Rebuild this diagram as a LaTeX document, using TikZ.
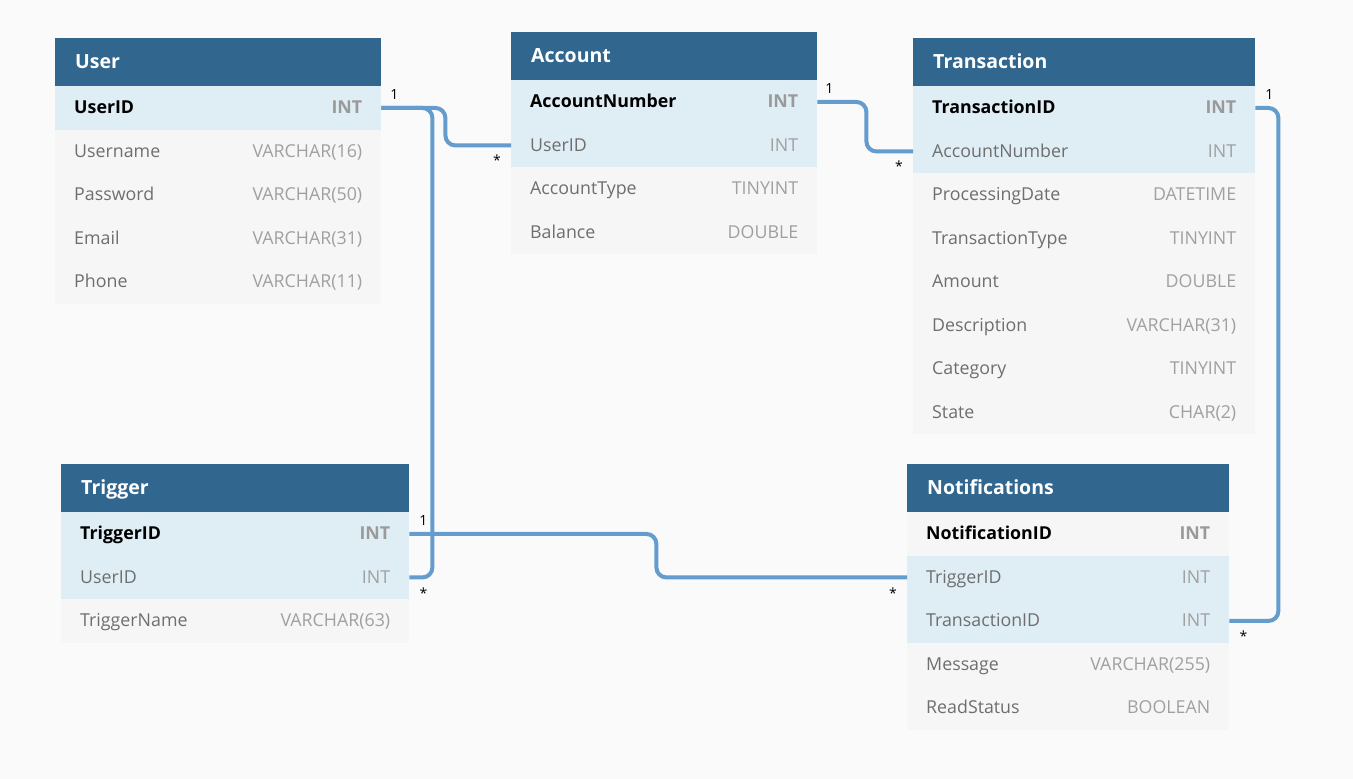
\documentclass[tikz,border=0pt]{standalone}
\usepackage{fontspec}
\setmainfont{Open Sans}
\usetikzlibrary{calc}
\definecolor{bggray}{HTML}{FAFAFA}
\definecolor{headblue}{HTML}{31668F}
\definecolor{keyblue}{HTML}{DFEDF5}
\definecolor{rowgray}{HTML}{F6F6F6}
\definecolor{linkblue}{HTML}{639CCD}
\definecolor{fldname}{HTML}{6E6E6E}
\definecolor{fldtype}{HTML}{A0A0A0}
\definecolor{pktype}{HTML}{9A9A9A}
\newcommand{\keyfld}[2]{\textbf{#1}\hfill{\color{pktype}\textbf{#2}}}
\newcommand{\fkfld}[2]{{\color{fldname}#1}\hfill{\color{fldtype}#2}}
\newcommand{\plainfld}[2]{{\color{fldname}#1}\hfill{\color{fldtype}#2}}

\begin{document}
\begin{tikzpicture}[x=1pt,y=-1pt,
		font=\fontsize{17.8}{20}\selectfont,
		tabhead/.style={fill=headblue, text=white, font=\fontsize{19.5}{22}\selectfont\bfseries,
			anchor=north west, minimum height=48, inner xsep=20, inner ysep=0,
			text height=14, text depth=2, text width=#1},
		keyrow/.style={fill=keyblue, anchor=north west, minimum height=43.5,
			inner xsep=19, inner ysep=0, text height=14, text depth=2, text width=#1},
		plainrow/.style={keyrow=#1, fill=rowgray},
		link/.style={draw=linkblue, line width=4, rounded corners=10},
		card/.style={font=\fontsize{14}{16}\selectfont, inner sep=0}]

		\fill[bggray] (0,0) rectangle (1353,779);

		%% User
		\node[tabhead=286] at (55,38)(user){User};
		\node[keyrow=288] at (55,86)(userid){\keyfld{UserID}{INT}};
		\node[plainrow=288] at (55,129.5)(uname){\plainfld{Username}{VARCHAR(16)}};
		\node[plainrow=288] at (55,173)(upass){\plainfld{Password}{VARCHAR(50)}};
		\node[plainrow=288] at (55,216.5)(umail){\plainfld{Email}{VARCHAR(31)}};
		\node[plainrow=288] at (55,260)(uphone){\plainfld{Phone}{VARCHAR(11)}};

		%% Account
		\node[tabhead=266] at (511,32)(account){Account};
		\node[keyrow=268] at (511,80)(anum){\keyfld{AccountNumber}{INT}};
		\node[keyrow=268] at (511,123.5)(auserid){\fkfld{UserID}{INT}};
		\node[plainrow=268] at (511,167)(atype){\plainfld{AccountType}{TINYINT}};
		\node[plainrow=268] at (511,210.5)(abal){\plainfld{Balance}{DOUBLE}};

		%% Transaction
		\node[tabhead=302] at (913,38)(trans){Transaction};
		\node[keyrow=304] at (913,86)(ttransid){\keyfld{TransactionID}{INT}};
		\node[keyrow=304] at (913,129.5)(tanum){\fkfld{AccountNumber}{INT}};
		\node[plainrow=304] at (913,173)(tdate){\plainfld{ProcessingDate}{DATETIME}};
		\node[plainrow=304] at (913,216.5)(ttype){\plainfld{TransactionType}{TINYINT}};
		\node[plainrow=304] at (913,260)(tamount){\plainfld{Amount}{DOUBLE}};
		\node[plainrow=304] at (913,303.5)(tdesc){\plainfld{Description}{VARCHAR(31)}};
		\node[plainrow=304] at (913,347)(tcat){\plainfld{Category}{TINYINT}};
		\node[plainrow=304] at (913,390.5)(tstate){\plainfld{State}{CHAR(2)}};

		%% Trigger
		\node[tabhead=308] at (61,464)(trigger){Trigger};
		\node[keyrow=310] at (61,512)(gtrigid){\keyfld{TriggerID}{INT}};
		\node[keyrow=310] at (61,555.5)(guserid){\fkfld{UserID}{INT}};
		\node[plainrow=310] at (61,599)(gname){\plainfld{TriggerName}{VARCHAR(63)}};

		%% Notifications
		\node[tabhead=282] at (907,464)(notif){Notifications};
		\node[plainrow=284] at (907,512)(nid){\keyfld{NotificationID}{INT}};
		\node[keyrow=284] at (907,555.5)(ntrigid){\fkfld{TriggerID}{INT}};
		\node[keyrow=284] at (907,599)(ntransid){\fkfld{TransactionID}{INT}};
		\node[plainrow=284] at (907,642.5)(nmsg){\plainfld{Message}{VARCHAR(255)}};
		\node[plainrow=284] at (907,686)(nread){\plainfld{ReadStatus}{BOOLEAN}};

		%% relations
		\draw[link] (userid.east) -- ++(51,0) |- (guserid.east);
		\draw[link] (userid.east) -- ++(64,0) |- (auserid.west);
		\draw[link] (anum.east) -- ++(49,0) |- (tanum.west);
		\draw[link] (gtrigid.east) -- ++(247,0) |- (ntrigid.west);
		\draw[link] (ttransid.east) -- ++(23,0) |- (ntransid.east);

		%% cardinalities
		\node[card] at ($(userid.east)+(13,-13)$)(c-user){1};
		\node[card] at ($(auserid.west)+(-14,15)$)(c-auser){*};
		\node[card] at ($(guserid.east)+(14,16)$)(c-guser){*};
		\node[card] at ($(anum.east)+(12,-13)$)(c-anum){1};
		\node[card] at ($(tanum.west)+(-14,15)$)(c-tanum){*};
		\node[card] at ($(gtrigid.east)+(14,-13)$)(c-gtrig){1};
		\node[card] at ($(ntrigid.west)+(-14,16)$)(c-ntrig){*};
		\node[card] at ($(ttransid.east)+(14,-13)$)(c-ttrans){1};
		\node[card] at ($(ntransid.east)+(14,15)$)(c-ntrans){*};
\end{tikzpicture}
\end{document}
